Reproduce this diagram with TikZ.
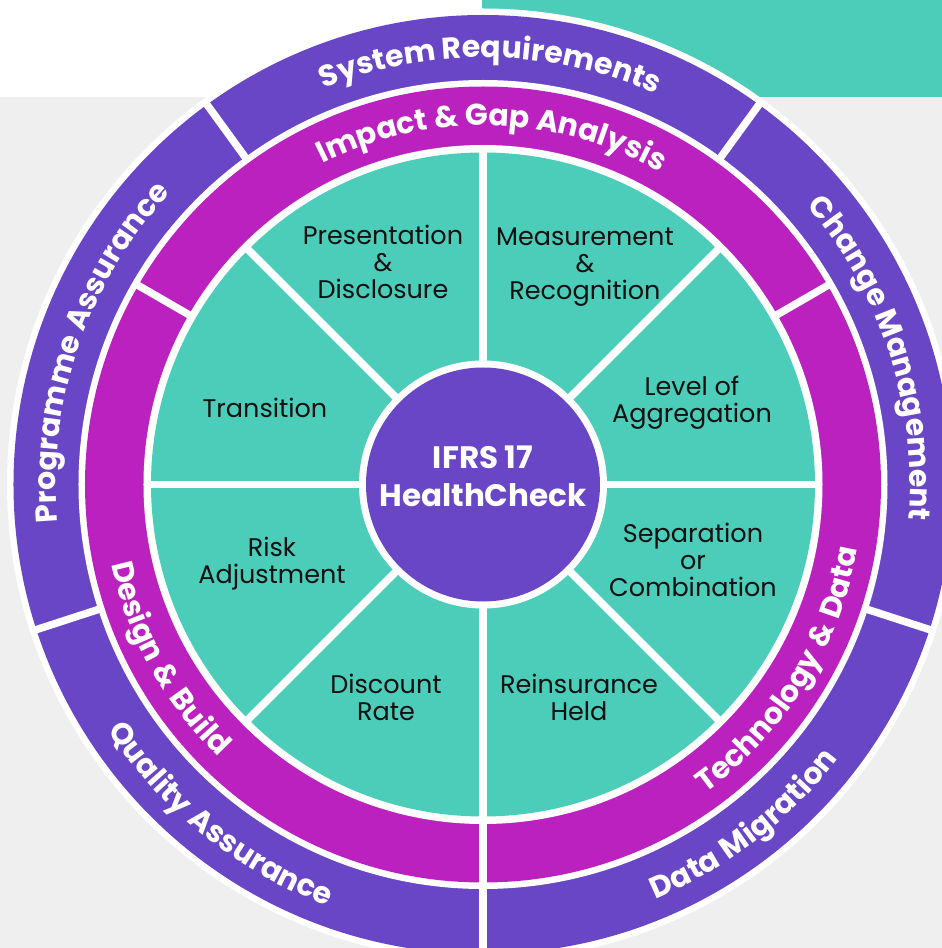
\documentclass[tikz,border=0pt]{standalone}
\usepackage{fontspec}
\setmainfont{Poppins}
\newfontfamily\ringwidefam{Poppins}[LetterSpace=4.5]
\usetikzlibrary{decorations.text}
\definecolor{ringpurple}{HTML}{6846C6}
\definecolor{ringmagenta}{HTML}{BB21BF}
\definecolor{segteal}{HTML}{4BCDBA}
\definecolor{bggray}{HTML}{EFEFEF}
\definecolor{labeltext}{HTML}{111111}
\newcommand\ringfont{\bfseries\fontsize{30}{30}\selectfont\color{white}}
\newcommand\ringwidefont{\ringwidefam\bfseries\fontsize{30}{30}\selectfont\color{white}}
\tikzset{
  divider/.style={draw=white, line width=7.5pt},
  seglabel/.style={font=\fontsize{25.5}{27}\selectfont, align=center, text=labeltext, inner sep=0pt},
  centrelabel/.style={font=\bfseries\fontsize{31}{38}\selectfont, align=center, text=white, inner sep=0pt},
  ringtext/.style={decorate, decoration={text along path, text align=center, text={|\ringfont|#1}}},
  ringtextwide/.style={decorate, decoration={text along path, text align=center, text={|\ringwidefont|#1}}}
}
\begin{document}
\begin{tikzpicture}[x=1pt,y=1pt]
  \useasboundingbox (-483,-463.5) rectangle (459,484.5);
  % background
  \fill[white] (-483,-463.5) rectangle (459,484.5);
  \fill[bggray] (-483,-463.5) rectangle (459,387.5);
  \fill[segteal] (-1,387.5) rectangle (459,484.5);
  % rings
  \fill[white] (0,0) circle (476);
  \fill[ringpurple] (0,0) circle (469.5);
  \fill[white] (0,0) circle (404.5);
  \fill[ringmagenta] (0,0) circle (398);
  \fill[white] (0,0) circle (339.5);
  \fill[segteal] (0,0) circle (332);
  % dividers
  \foreach \a in {54,126,198,270,342} \draw[divider] (\a:400) -- (\a:472);
  \foreach \a in {30,150,270} \draw[divider] (\a:334) -- (\a:402);
  \foreach \a in {0,45,...,315} \draw[divider] (0,0) -- (\a:336);
  % centre
  \fill[white] (0,0) circle (124);
  \fill[ringpurple] (0,0) circle (117);
  \node[centrelabel] (centre) at (0,8.5) {IFRS 17\\HealthCheck};
  % outer ring texts
  \path[ringtext={System Requirements}] (125:427) arc[start angle=125, end angle=53, radius=427];
  \path[ringtext={Programme Assurance}] (197:427) arc[start angle=197, end angle=125, radius=427];
  \path[ringtext={Change Management}] (54:427) arc[start angle=54, end angle=-18, radius=427];
  \path[ringtextwide={Quality Assurance}] (195.5:449) arc[start angle=195.5, end angle=267.5, radius=449];
  \path[ringtextwide={Data Migration}] (271.5:449) arc[start angle=271.5, end angle=343.5, radius=449];
  % middle ring texts
  \path[ringtext={Impact {\&} Gap Analysis}] (148.5:359) arc[start angle=148.5, end angle=28.5, radius=359];
  \path[ringtextwide={Design {\&} Build}] (149:380) arc[start angle=149, end angle=269, radius=380];
  \path[ringtextwide={Technology {\&} Data}] (268:380) arc[start angle=268, end angle=388, radius=380];
  % segment labels
  \node[seglabel] (pres) at (-100,222.5) {Presentation\\\&\\Disclosure};
  \node[seglabel] (meas) at (102,217.5) {Measurement\\\&\\Recognition};
  \node[seglabel] (level) at (209,81.5) {Level of\\Aggregation};
  \node[seglabel] (trans) at (-218,76.5) {Transition};
  \node[seglabel] (sep) at (210,-75.5) {Separation\\or\\Combination};
  \node[seglabel] (risk) at (-211,-79.5) {Risk\\Adjustment};
  \node[seglabel] (disc) at (-97,-212.5) {Discount\\Rate};
  \node[seglabel] (reins) at (96,-212.5) {Reinsurance\\Held};
\end{tikzpicture}
\end{document}
